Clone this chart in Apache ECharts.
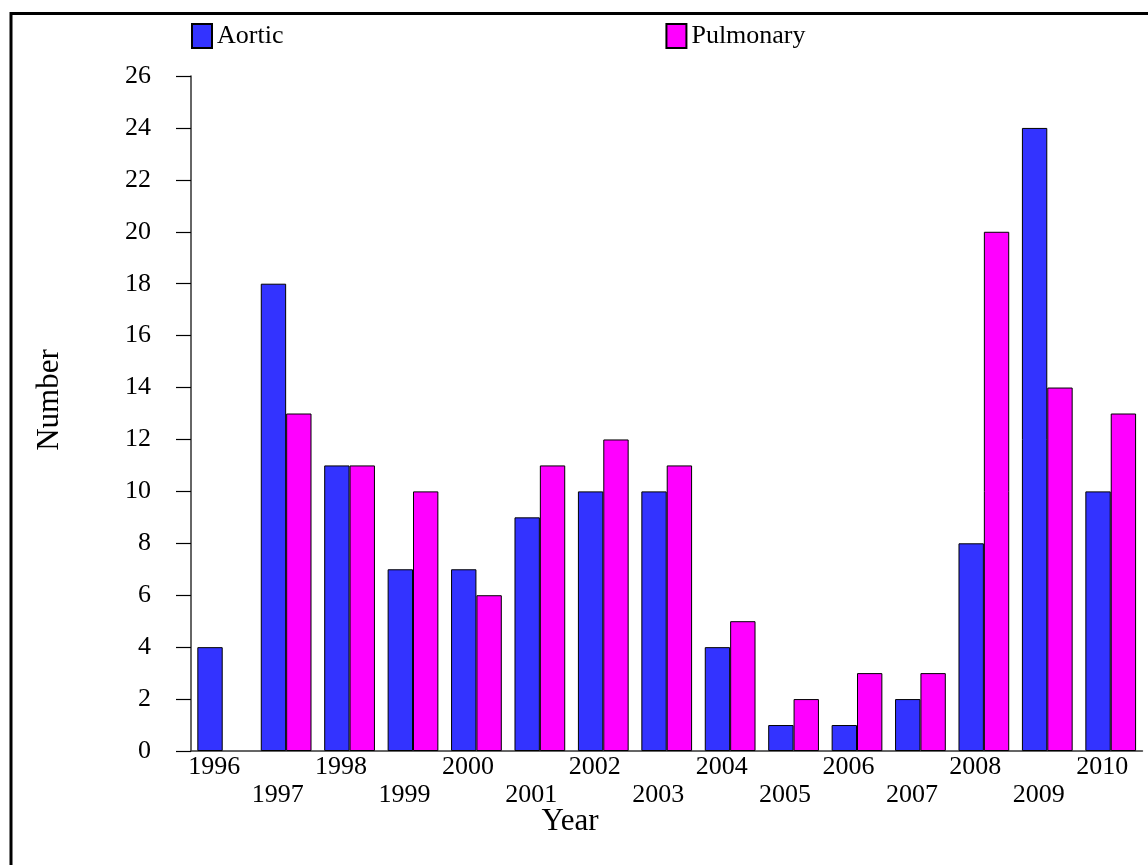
<!DOCTYPE html>
<html>
<head>
<meta charset="utf-8">
<script src="https://cdn.jsdelivr.net/npm/echarts@6/dist/echarts.min.js"></script>
<style>
html,body{margin:0;padding:0;background:#fff;}
#chart{width:1148px;height:865px;}
</style>
</head>
<body>
<div id="chart"></div>
<script>
const years = ['1996','1997','1998','1999','2000','2001','2002','2003','2004','2005','2006','2007','2008','2009','2010'];
const aortic = [4,18,11,7,7,9,10,10,4,1,1,2,8,24,10];
const pulmonary = [null,13,11,10,6,11,12,11,5,2,3,3,20,14,13];
const seriesNames = ['Aortic','Pulmonary'];
const yTitle = 'Number';
const xTitle = 'Year';

const font = 'Liberation Serif, Times New Roman, serif';
const chart = echarts.init(document.getElementById('chart'), null, {renderer:'canvas'});
chart.setOption({
  animation:false,
  backgroundColor:'#fff',
  textStyle:{fontFamily:font},
  legend:{
    top:18, left:186, itemGap:382, itemWidth:20, itemHeight:24, itemTextGap:3,
    icon:'rect',
    textStyle:{fontFamily:font, fontSize:26, color:'#000'},
    data:seriesNames
  },
  grid:{left:191, top:76, width:958, height:675, containLabel:false},
  xAxis:{
    type:'category', data:years,
    axisLine:{lineStyle:{color:'#333', width:1.5}},
    axisTick:{show:false},
    axisLabel:{
      interval:0, margin:2, fontFamily:font, fontSize:26, color:'#000', lineHeight:28,
      padding:[0,17,0,0],
      formatter:function(v, i){ return i % 2 === 1 ? '\n' + v : v; }
    }
  },
  yAxis:{
    type:'value', min:0, max:26, interval:2,
    splitLine:{show:false},
    axisLine:{show:true, lineStyle:{color:'#333', width:1.5}},
    axisTick:{show:true, length:15, lineStyle:{color:'#000', width:1.2}},
    axisLabel:{margin:40, fontFamily:font, fontSize:26, color:'#000'}
  },
  series:[
    {name:seriesNames[0], type:'bar', data:aortic, barGap:'0%', barCategoryGap:'20%',
     itemStyle:{color:'#3333FF', borderColor:'#000', borderWidth:1}},
    {name:seriesNames[1], type:'bar', data:pulmonary,
     itemStyle:{color:'#FF00FF', borderColor:'#000', borderWidth:1}}
  ],
  graphic:[
    {type:'rect', shape:{x:11, y:13.5, width:2000, height:2000}, style:{fill:'none', stroke:'#000', lineWidth:3}, silent:true},
    {type:'text', x:50, y:400, rotation:Math.PI/2, style:{text:yTitle, font:'31px '+font, fill:'#000', textAlign:'center', textVerticalAlign:'middle'}},
    {type:'text', x:570, y:822, style:{text:xTitle, font:'31px '+font, fill:'#000', textAlign:'center', textVerticalAlign:'middle'}}
  ]
});
</script>
</body>
</html>
